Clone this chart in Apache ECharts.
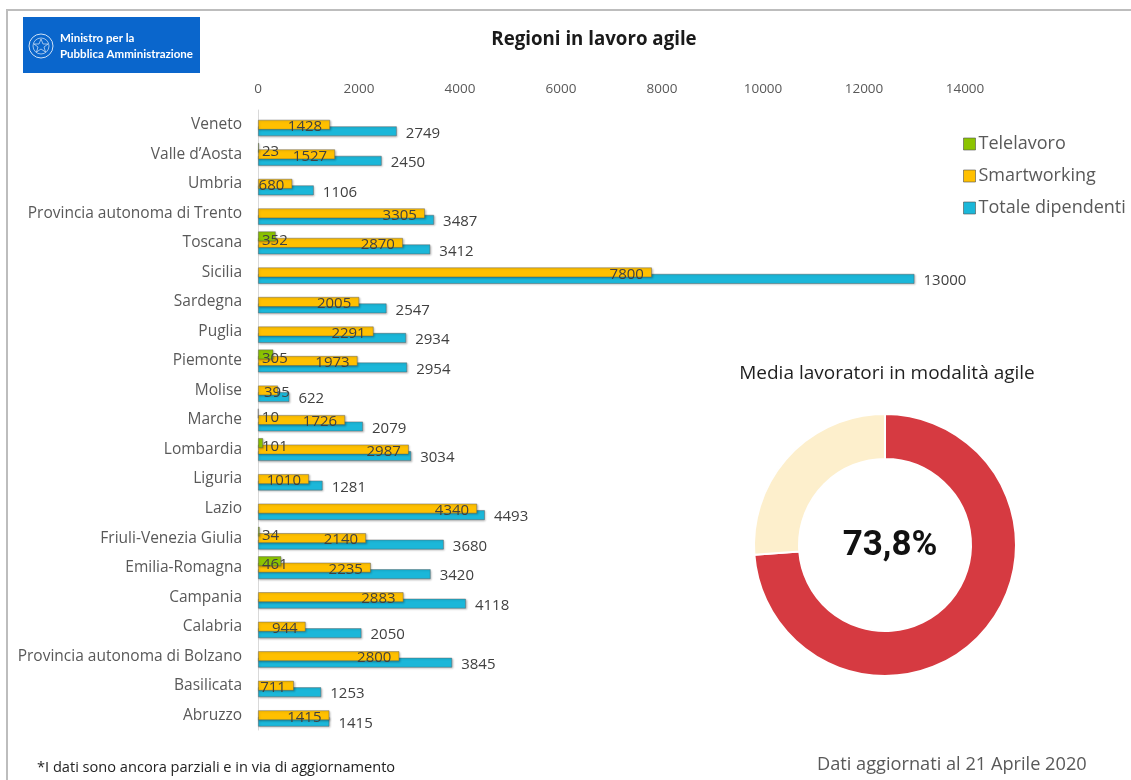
<!DOCTYPE html>
<html>
<head>
<meta charset="utf-8">
<script src="https://cdn.jsdelivr.net/npm/echarts@6/dist/echarts.min.js"></script>
<style>
  html, body { margin: 0; padding: 0; background: #fff; }
  #chart { width: 1131px; height: 780px; }
</style>
</head>
<body>
<div id="chart"></div>
<script>
// Regions, top to bottom
const regioni = [
  'Veneto', 'Valle d\u2019Aosta', 'Umbria', 'Provincia autonoma di Trento', 'Toscana',
  'Sicilia', 'Sardegna', 'Puglia', 'Piemonte', 'Molise', 'Marche', 'Lombardia',
  'Liguria', 'Lazio', 'Friuli-Venezia Giulia', 'Emilia-Romagna', 'Campania',
  'Calabria', 'Provincia autonoma di Bolzano', 'Basilicata', 'Abruzzo'
];
const telelavoro = [null, 23, null, null, 352, null, null, null, 305, null, 10, 101,
  null, null, 34, 461, null, null, null, null, null];
const smartworking = [1428, 1527, 680, 3305, 2870, 7800, 2005, 2291, 1973, 395, 1726, 2987,
  1010, 4340, 2140, 2235, 2883, 944, 2800, 711, 1415];
const totaleDipendenti = [2749, 2450, 1106, 3487, 3412, 13000, 2547, 2934, 2954, 622, 2079, 3034,
  1281, 4493, 3680, 3420, 4118, 2050, 3845, 1253, 1415];
const xTicks = { min: 0, max: 14000, interval: 2000 };

// Share of staff working in agile mode (percent)
const mediaAgile = 73.8;
const mediaAgileLabel = '73,8%';

const FONT = 'Open Sans';
const GREY_TXT = '#595959';
const VAL_TXT = '#404040';

const barBase = {
  type: 'bar',
  barWidth: 10,
  barGap: '-35%',
  itemStyle: {
    borderColor: 'rgba(90,90,90,0.55)',
    borderWidth: 0.8,
    shadowColor: 'rgba(0,0,0,0.25)',
    shadowBlur: 2,
    shadowOffsetX: 1,
    shadowOffsetY: 1
  }
};

// Molise's short Smartworking bar keeps its label starting from the axis
const smartData = smartworking.map((v, i) =>
  regioni[i] === 'Molise'
    ? { value: v, label: { position: 'insideLeft', distance: 6 } }
    : v);

const chart = echarts.init(document.getElementById('chart'), null, { renderer: 'canvas' });

chart.setOption({
  animation: false,
  backgroundColor: '#fff',
  textStyle: { fontFamily: FONT },
  title: [
    {
      text: 'Regioni in lavoro agile',
      left: 589, top: 25, textAlign: 'center',
      textStyle: { fontFamily: FONT, fontSize: 18.7, fontWeight: 'bold', color: '#1a1a1a' }
    },
    {
      text: 'Media lavoratori in modalit\u00e0 agile',
      left: 882, top: 359, textAlign: 'center',
      textStyle: { fontFamily: FONT, fontSize: 19, fontWeight: 'normal', color: '#1f1f1f' }
    },
    {
      text: mediaAgileLabel,
      left: 885, top: 524, textAlign: 'center',
      textStyle: { fontFamily: 'Roboto', fontSize: 35, fontWeight: 'bold', color: '#111' }
    }
  ],
  legend: {
    orient: 'vertical',
    left: 958, top: 130,
    itemWidth: 12, itemHeight: 12, itemGap: 14,
    icon: 'rect',
    data: ['Telelavoro', 'Smartworking', 'Totale dipendenti'],
    textStyle: { fontFamily: FONT, fontSize: 18, color: GREY_TXT, padding: [0, 0, 0, -2] },
    itemStyle: { borderColor: 'rgba(80,80,80,0.6)', borderWidth: 1 }
  },
  grid: { left: 258, top: 110, width: 707, height: 620, containLabel: false },
  xAxis: {
    type: 'value',
    position: 'top',
    min: xTicks.min, max: xTicks.max, interval: xTicks.interval,
    axisLine: { show: false },
    axisTick: { show: false },
    splitLine: { show: false },
    axisLabel: {
      margin: 14, fontFamily: FONT, fontSize: 13.5, color: GREY_TXT,
      formatter: (v) => String(v)
    }
  },
  yAxis: {
    type: 'category',
    inverse: true,
    data: regioni,
    axisLine: { show: true, lineStyle: { color: '#d9d9d9', width: 1 } },
    axisTick: { show: false },
    axisLabel: { margin: 16, fontFamily: FONT, fontSize: 15.5, color: GREY_TXT, padding: [3, 0, 0, 0] }
  },
  series: [
    Object.assign({}, barBase, {
      name: 'Telelavoro',
      data: telelavoro,
      z: 4,
      itemStyle: Object.assign({}, barBase.itemStyle, { color: '#8cc400' }),
      label: {
        show: true, position: 'insideLeft', distance: 4, offset: [0, 4],
        fontFamily: FONT, fontSize: 15, color: VAL_TXT
      }
    }),
    Object.assign({}, barBase, {
      name: 'Smartworking',
      data: smartData,
      z: 3,
      itemStyle: Object.assign({}, barBase.itemStyle, { color: '#ffc000' }),
      label: {
        show: true, position: 'insideRight', distance: 8, offset: [0, 2],
        fontFamily: FONT, fontSize: 15, color: VAL_TXT
      }
    }),
    Object.assign({}, barBase, {
      name: 'Totale dipendenti',
      data: totaleDipendenti,
      z: 2,
      itemStyle: Object.assign({}, barBase.itemStyle, { color: '#1bb7d9' }),
      label: {
        show: true, position: 'right', distance: 9, offset: [0, 2],
        fontFamily: FONT, fontSize: 15, color: VAL_TXT
      }
    }),
    {
      type: 'pie',
      center: [885, 545],
      radius: [86, 131],
      startAngle: 90,
      clockwise: true,
      silent: true,
      label: { show: false },
      labelLine: { show: false },
      itemStyle: { borderColor: '#fff', borderWidth: 2 },
      data: [
        { name: 'Agile', value: mediaAgile, itemStyle: { color: '#d63a41' } },
        { name: 'Altro', value: +(100 - mediaAgile).toFixed(1), itemStyle: { color: '#fdefcc' } }
      ]
    }
  ],
  graphic: [
    // page frame (top and left rules)
    { type: 'line', shape: { x1: 6, y1: 10, x2: 1131, y2: 10 }, style: { stroke: '#bdbdbd', lineWidth: 2 } },
    { type: 'line', shape: { x1: 7, y1: 10, x2: 7, y2: 780 }, style: { stroke: '#bdbdbd', lineWidth: 2 } },
    // ministry badge
    { type: 'rect', shape: { x: 23, y: 17, width: 177, height: 56 }, style: { fill: '#0a66cc' } },
    { type: 'circle', shape: { cx: 41, cy: 46, r: 12 }, style: { fill: 'none', stroke: 'rgba(255,255,255,0.8)', lineWidth: 1 } },
    { type: 'circle', shape: { cx: 41, cy: 46, r: 8 }, style: { fill: 'none', stroke: 'rgba(255,255,255,0.6)', lineWidth: 1 } },
    { type: 'polygon', shape: { points: [[41, 39], [43, 44], [48, 44], [44, 47], [45.5, 52], [41, 49], [36.5, 52], [38, 47], [34, 44], [39, 44]] },
      style: { fill: 'none', stroke: 'rgba(255,255,255,0.75)', lineWidth: 0.8 } },
    { type: 'text', left: 60, top: 32, style: { text: 'Ministro per la', fill: '#fff', font: 'bold 11.5px Lato' } },
    { type: 'text', left: 60, top: 48, style: { text: 'Pubblica Amministrazione', fill: '#fff', font: 'bold 11.5px Lato' } },
    // footnotes
    { type: 'text', left: 37, top: 760, style: { text: '*I dati sono ancora parziali e in via di aggiornamento', fill: '#222', font: '14.6px "Open Sans"' } },
    { type: 'text', left: 817, top: 756, style: { text: 'Dati aggiornati al 21 Aprile 2020', fill: GREY_TXT, font: '18.2px "Open Sans"' } }
  ]
});
</script>
</body>
</html>
